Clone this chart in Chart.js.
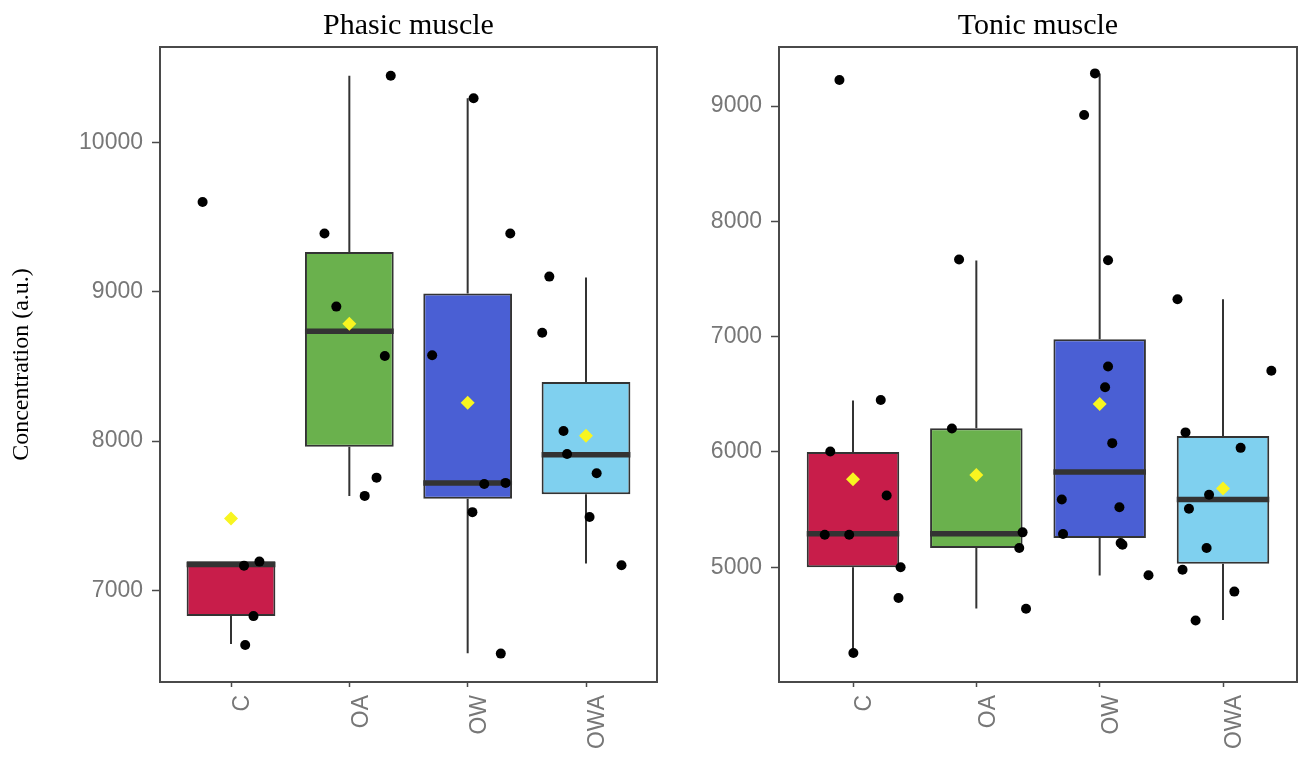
<!DOCTYPE html>
<html>
<head>
<meta charset="utf-8">
<title>Phasic / Tonic muscle</title>
<script src="https://cdn.jsdelivr.net/npm/chart.js@4.4.1/dist/chart.umd.min.js"></script>
<style>
    html, body { margin: 0; padding: 0; background: #fff; }
    #page { position: relative; width: 1299px; height: 759px; overflow: hidden; }
    .panel { position: absolute; top: 0; height: 759px; }
    #leftPanel { left: 0; width: 670px; }
    #rightPanel { left: 660px; width: 644px; }
</style>
</head>
<body>
<div id="page">
    <div class="panel" id="leftPanel"><canvas id="phasicChart"></canvas></div>
    <div class="panel" id="rightPanel"><canvas id="tonicChart"></canvas></div>
</div>
<script>
// Groups on the x axis
const categories = ["C", "OA", "OW", "OWA"];
const boxColors = ["#c81d4a", "#6ab14d", "#4a5fd4", "#7fd0ef"];

// Phasic muscle: box statistics
const phasicLow = [6642, 7632, 6580, 7180];
const phasicQ1 = [6829, 7962, 7614, 7644];
const phasicMedian = [7174, 8735, 7720, 7908];
const phasicQ3 = [7195, 9266, 8987, 8395];
const phasicHigh = [7195, 10445, 10295, 9095];
const phasicMean = [7482, 8785, 8257, 8036];
// jittered observations [x position, value]
const phasicPoints = [
    [0.76, 9600], [1.11, 7166], [1.24, 7193], [1.19, 6828], [1.12, 6635],
    [2.35, 10445], [1.79, 9389], [1.89, 8900], [2.30, 8570], [2.23, 7755], [2.13, 7633],
    [3.05, 10295], [3.36, 9390], [2.70, 8575], [3.14, 7712], [3.32, 7720], [3.04, 7524], [3.28, 6577],
    [3.69, 9101], [3.63, 8725], [3.81, 8067], [3.84, 7913], [4.09, 7785], [4.03, 7492], [4.30, 7168]
];
const phasicTicks = [7000, 8000, 9000, 10000];

// Tonic muscle
const tonicLow = [4256, 4642, 4927, 4541];
const tonicQ1 = [5000, 5166, 5253, 5029];
const tonicMedian = [5291, 5291, 5826, 5587];
const tonicQ3 = [6000, 6206, 6977, 6137];
const tonicHigh = [6445, 7660, 9283, 7324];
const tonicMean = [5762, 5799, 6416, 5683];
const tonicPoints = [
    [0.89, 9225], [1.225, 6450], [0.816, 6003], [1.273, 5622], [0.771, 5282], [0.969, 5282], [1.386, 5000], [1.369, 4733], [1.003, 4256],
    [1.86, 7668], [1.802, 6203], [2.375, 5302], [2.348, 5166], [2.403, 4640],
    [2.962, 9283], [2.874, 8922], [3.068, 7662], [3.068, 6740], [3.044, 6561], [3.102, 6076], [2.693, 5587], [3.160, 5520], [2.703, 5288], [3.17, 5210], [3.185, 5195], [3.396, 4930],
    [3.631, 7324], [4.392, 6704], [3.696, 6169], [4.143, 6035], [3.887, 5628], [3.724, 5506], [3.867, 5166], [3.672, 4977], [4.092, 4788], [3.778, 4538]
];
const tonicTicks = [5000, 6000, 7000, 8000, 9000];

const AXIS_GREY = "#4a4a4a";
const TEXT_GREY = "#777777";
const HALF_BOX = 0.375;

// Plugin that draws the full frame around the plot area
const framePlugin = {
    id: "frame",
    afterDraw(chart) {
        const { ctx, chartArea } = chart;
        ctx.save();
        ctx.strokeStyle = AXIS_GREY;
        ctx.lineWidth = 2;
        ctx.strokeRect(chartArea.left, chartArea.top, chartArea.right - chartArea.left, chartArea.bottom - chartArea.top);
        ctx.restore();
    }
};

function buildPanel(canvasId, p) {
    // whiskers: low -> q1 and q3 -> high, separated by null gaps
    const whiskers = [];
    const medians = [];
    categories.forEach((c, i) => {
        const x = i + 1;
        whiskers.push({ x: x, y: p.low[i] }, { x: x, y: p.q1[i] }, { x: x, y: null });
        whiskers.push({ x: x, y: p.q3[i] }, { x: x, y: p.high[i] }, { x: x, y: null });
        medians.push({ x: x - HALF_BOX, y: p.median[i] }, { x: x + HALF_BOX, y: p.median[i] }, { x: x, y: null });
    });
    const boxes = categories.map((c, i) => ({ x: i + 1, y: [p.q1[i], p.q3[i]] }));
    const points = p.points.map(pt => ({ x: pt[0], y: pt[1] }));
    const means = p.mean.map((m, i) => ({ x: i + 1, y: m }));

    const ctx = document.getElementById(canvasId).getContext("2d");
    return new Chart(ctx, {
        type: "bar",
        data: {
            datasets: [
                {
                    type: "line", data: whiskers, order: 5,
                    borderColor: "#333333", borderWidth: 2, pointRadius: 0, spanGaps: false
                },
                {
                    type: "bar", data: boxes, order: 4,
                    backgroundColor: boxColors, borderColor: "#333333", borderWidth: 2,
                    borderSkipped: false, categoryPercentage: 1, barPercentage: 0.75
                },
                {
                    type: "line", data: medians, order: 3,
                    borderColor: "#333333", borderWidth: 5.5, borderCapStyle: "butt", pointRadius: 0, spanGaps: false
                },
                {
                    type: "line", data: points, order: 2, showLine: false,
                    pointRadius: 5, pointBackgroundColor: "#000000", pointBorderWidth: 0
                },
                {
                    type: "line", data: means, order: 1, showLine: false,
                    pointStyle: "rectRot", pointRadius: 7, pointBackgroundColor: "#f8f520", pointBorderWidth: 0
                }
            ]
        },
        options: {
            responsive: true,
            maintainAspectRatio: false,
            animation: false,
            layout: { padding: { left: 0, right: p.padRight, top: 0, bottom: 0 } },
            plugins: {
                legend: { display: false },
                tooltip: { enabled: false },
                title: {
                    display: true,
                    fullSize: false,
                    text: p.title,
                    color: "#000000",
                    font: { family: "'Liberation Serif', 'Times New Roman', serif", size: 30, weight: "normal" },
                    padding: { top: 8, bottom: 3 }
                }
            },
            scales: {
                x: {
                    type: "linear",
                    min: 0.4,
                    max: 4.6,
                    offset: false,
                    afterBuildTicks: (scale) => { scale.ticks = categories.map((c, i) => ({ value: i + 1 })); },
                    afterFit: (scale) => { scale.height = 77; },
                    grid: { offset: false, drawOnChartArea: false, drawTicks: true, tickLength: 5, tickColor: AXIS_GREY, tickWidth: 1.5 },
                    border: { display: true, color: AXIS_GREY, width: 2 },
                    ticks: {
                        autoSkip: false,
                        minRotation: 90,
                        maxRotation: 90,
                        padding: 8,
                        labelOffset: 12,
                        color: TEXT_GREY,
                        font: { family: "'Liberation Sans', Arial, sans-serif", size: 23 },
                        callback: (v) => categories[Math.round(v) - 1]
                    }
                },
                y: {
                    type: "linear",
                    min: p.yMin,
                    max: p.yMax,
                    afterBuildTicks: (scale) => { scale.ticks = p.ticks.map(v => ({ value: v })); },
                    afterFit: (scale) => { scale.width = p.axisWidth; },
                    grid: { drawOnChartArea: false, drawTicks: true, tickLength: 8, tickColor: AXIS_GREY, tickWidth: 1.5 },
                    border: { display: true, color: AXIS_GREY, width: 2 },
                    title: {
                        display: !!p.yTitle,
                        text: p.yTitle || "",
                        color: "#000000",
                        font: { family: "'Liberation Serif', 'Times New Roman', serif", size: 24 },
                        padding: { top: 7, bottom: 0 }
                    },
                    ticks: {
                        padding: 9,
                        color: TEXT_GREY,
                        font: { family: "'Liberation Sans', Arial, sans-serif", size: 23 },
                        callback: (v) => String(v)
                    }
                }
            }
        },
        plugins: [framePlugin]
    });
}

buildPanel("phasicChart", {
    title: "Phasic muscle",
    low: phasicLow, q1: phasicQ1, median: phasicMedian, q3: phasicQ3, high: phasicHigh,
    mean: phasicMean, points: phasicPoints, ticks: phasicTicks,
    yMin: 6387, yMax: 10638, yTitle: "Concentration (a.u.)",
    axisWidth: 160, padRight: 13
});

buildPanel("tonicChart", {
    title: "Tonic muscle",
    low: tonicLow, q1: tonicQ1, median: tonicMedian, q3: tonicQ3, high: tonicHigh,
    mean: tonicMean, points: tonicPoints, ticks: tonicTicks,
    yMin: 4004, yMax: 9512, yTitle: null,
    axisWidth: 119, padRight: 2
});
</script>
</body>
</html>
